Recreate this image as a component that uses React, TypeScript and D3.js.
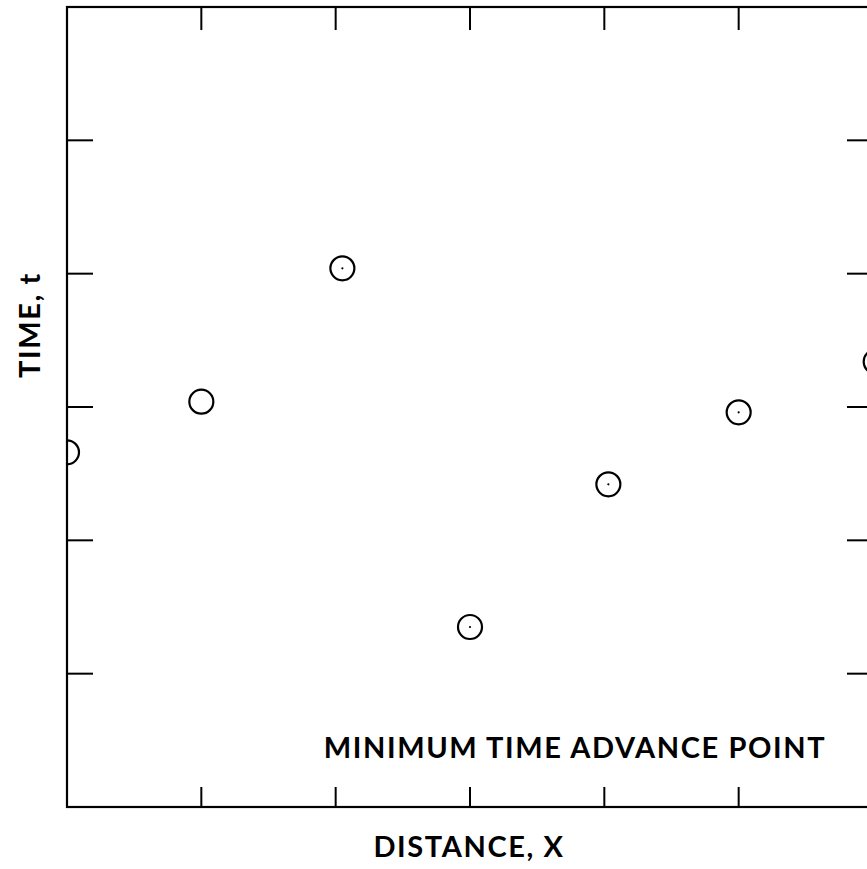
import React from "react";
import * as d3 from "d3";

// values (x in tick units, t in tick units)
const pointX = [0, 1, 2.05, 3, 4.03, 5, 6.02];
const pointT = [2.66, 3.04, 4.04, 1.35, 2.42, 2.96, 3.34];
const pointDot = [false, false, true, true, true, true, true];
const xTicks = [1, 2, 3, 4, 5];
const yTicks = [1, 2, 3, 4, 5];

const width = 867;
const height = 869;
const frame = { left: 67, right: 873, top: 7, bottom: 807 };

const App = () => {
  const x = d3.scaleLinear().domain([0, 6]).range([frame.left, frame.right]);
  const y = d3.scaleLinear().domain([0, 6]).range([frame.bottom, frame.top]);
  const font = "Lato, 'Open Sans', sans-serif";

  return (
    <svg
      width={width}
      height={height}
      style={{ position: "absolute", left: 0, top: 0, background: "#fff" }}
    >
      <defs>
        <clipPath id="plot">
          <rect
            x={frame.left}
            y={frame.top}
            width={frame.right - frame.left}
            height={frame.bottom - frame.top}
          />
        </clipPath>
      </defs>
      <rect
        x={frame.left}
        y={frame.top}
        width={frame.right - frame.left}
        height={frame.bottom - frame.top}
        fill="none"
        stroke="#000"
        strokeWidth={2.2}
      />
      {xTicks.map((t) => (
        <g key={"x" + t} stroke="#000" strokeWidth={2}>
          <line x1={x(t)} x2={x(t)} y1={frame.top} y2={frame.top + 23} />
          <line x1={x(t)} x2={x(t)} y1={frame.bottom} y2={frame.bottom - 20} />
        </g>
      ))}
      {yTicks.map((t) => (
        <g key={"y" + t} stroke="#000" strokeWidth={2}>
          <line x1={frame.left} x2={frame.left + 26} y1={y(t)} y2={y(t)} />
          <line x1={frame.right} x2={frame.right - 26} y1={y(t)} y2={y(t)} />
        </g>
      ))}
      <g clipPath="url(#plot)">
        {pointX.map((px, i) => (
          <g key={i}>
            <circle
              cx={x(px)}
              cy={y(pointT[i])}
              r={12}
              fill="none"
              stroke="#000"
              strokeWidth={2.2}
            />
            {pointDot[i] && (
              <circle cx={x(px)} cy={y(pointT[i])} r={1.1} fill="#000" />
            )}
          </g>
        ))}
      </g>
      <text
        x={575}
        y={758}
        textAnchor="middle"
        fontFamily={font}
        fontSize={29}
        fontWeight={700}
        letterSpacing={1.6}
      >
        MINIMUM TIME ADVANCE POINT
      </text>
      <text
        x={469}
        y={857}
        textAnchor="middle"
        fontFamily={font}
        fontSize={29}
        fontWeight={700}
        letterSpacing={1.6}
      >
        DISTANCE, X
      </text>
      <text
        transform="translate(40,325) rotate(-90)"
        textAnchor="middle"
        fontFamily={font}
        fontSize={29}
        fontWeight={700}
        letterSpacing={1.6}
      >
        TIME, t
      </text>
    </svg>
  );
};

export default App;
